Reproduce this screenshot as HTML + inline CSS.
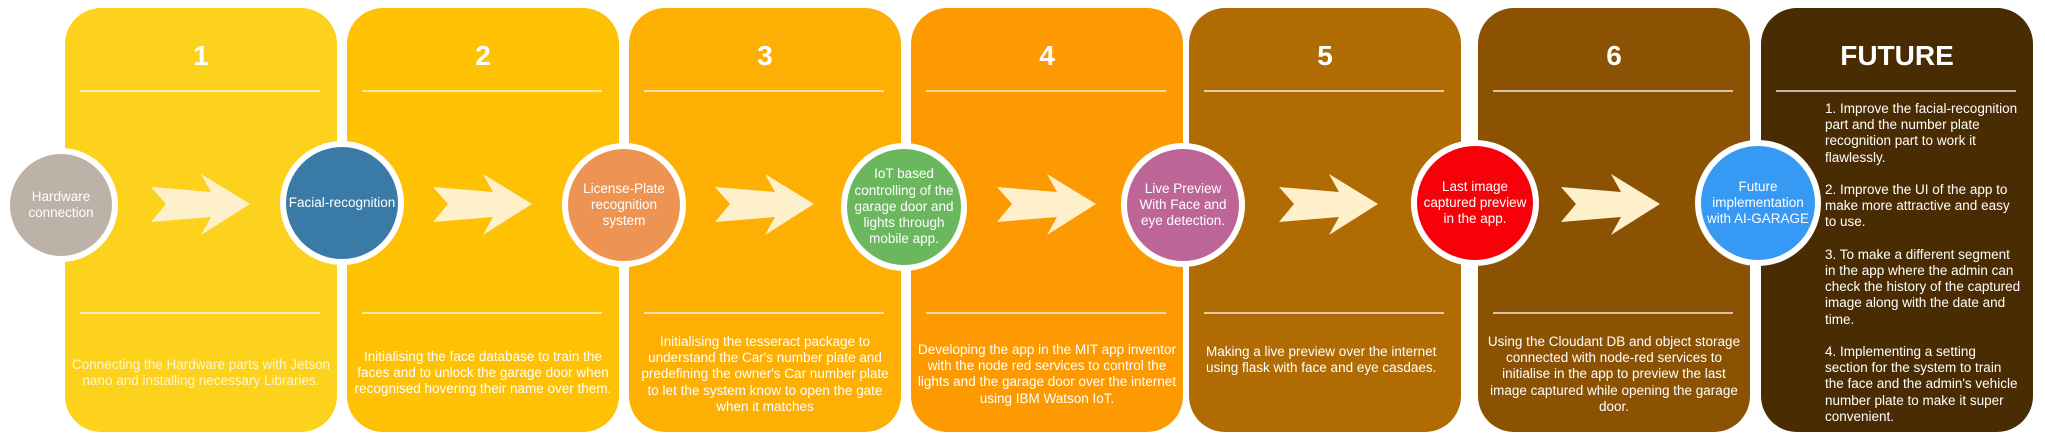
<!DOCTYPE html>
<html><head><meta charset="utf-8"><style>
body{margin:0;width:2045px;height:438px;background:#fff;position:relative;overflow:hidden;font-family:"Liberation Sans",Arial,sans-serif;}
.p{position:absolute;top:8px;height:424px;width:272px;border-radius:36px;}
.num{position:absolute;top:32px;left:0;width:100%;text-align:center;color:#fff;font-weight:bold;font-size:28px;}
.ln{position:absolute;left:15px;width:240px;height:2px;background:rgba(255,255,255,0.65);}
.t{position:absolute;left:0;width:100%;color:#fff;font-size:13.5px;line-height:16.2px;text-align:center;white-space:nowrap;}
.c{position:absolute;border-radius:50%;border:6px solid #fff;display:flex;align-items:center;justify-content:center;text-align:center;color:#fff;font-size:13.5px;line-height:16.2px;box-sizing:border-box;white-space:nowrap;}
svg.a{position:absolute;top:0;left:0;}
</style></head><body>

<div class="p" style="left:65px;background:#FDD21C"><div class="num">1</div><div class="ln" style="top:82px"></div><div class="ln" style="top:304px"></div>
<div class="t" style="top:349px;color:#fff6d0">Connecting the Hardware parts with Jetson<br>nano and installing necessary Libraries.</div></div>

<div class="p" style="left:347px;background:#FEC103"><div class="num">2</div><div class="ln" style="top:82px"></div><div class="ln" style="top:304px"></div>
<div class="t" style="top:341px">Initialising the face database to train the<br>faces and to unlock the garage door when<br>recognised hovering their name over them.</div></div>

<div class="p" style="left:629px;background:#FEAF03"><div class="num">3</div><div class="ln" style="top:82px"></div><div class="ln" style="top:304px"></div>
<div class="t" style="top:326px">Initialising the tesseract package to<br>understand the Car's number plate and<br>predefining the owner's Car number plate<br>to let the system know to open the gate<br>when it matches</div></div>

<div class="p" style="left:911px;background:#FD9A02"><div class="num">4</div><div class="ln" style="top:82px"></div><div class="ln" style="top:304px"></div>
<div class="t" style="top:334px">Developing the app in the MIT app inventor<br>with the node red services to control the<br>lights and the garage door over the internet<br>using IBM Watson IoT.</div></div>

<div class="p" style="left:1189px;background:#B06B03"><div class="num">5</div><div class="ln" style="top:82px"></div><div class="ln" style="top:304px"></div>
<div class="t" style="top:336px;left:17px;text-align:left">Making a live preview over the internet<br>using flask with face and eye casdaes.</div></div>

<div class="p" style="left:1478px;background:#8A5202"><div class="num">6</div><div class="ln" style="top:82px"></div><div class="ln" style="top:304px"></div>
<div class="t" style="top:326px">Using the Cloudant DB and object storage<br>connected with node-red services to<br>initialise in the app to preview the last<br>image captured while opening the garage<br>door.</div></div>

<div class="p" style="left:1761px;background:#4A2C02"><div class="num">FUTURE</div><div class="ln" style="top:82px"></div>
<div class="t" style="top:93px;left:64px;text-align:left">1. Improve the facial-recognition<br>part and the number plate<br>recognition part to work it<br>flawlessly.<br><br>2. Improve the UI of the app to<br>make more attractive and easy<br>to use.<br><br>3. To make a different segment<br>in the app where the admin can<br>check the history of the captured<br>image along with the date and<br>time.<br><br>4. Implementing a setting<br>section for the system to train<br>the face and the admin's vehicle<br>number plate to make it super<br>convenient.</div></div>

<svg class="a" width="2045" height="438">
<defs><polygon id="ar" points="151,187 166,204 151,222 211,217 201,235 250,204 201,174 211,192" fill="#FFF0CC"/></defs>
<use href="#ar" x="0"/><use href="#ar" x="282"/><use href="#ar" x="564"/><use href="#ar" x="846"/><use href="#ar" x="1128"/><use href="#ar" x="1410"/>
</svg>

<div class="c" style="left:4px;top:148px;width:114px;height:114px;background:#BDB2A7">Hardware<br>connection</div>
<div class="c" style="left:280px;top:141px;width:124px;height:124px;background:#3A7AA7">Facial-recognition</div>
<div class="c" style="left:562px;top:143px;width:124px;height:124px;background:#EE9452">License-Plate<br>recognition<br>system</div>
<div class="c" style="left:841px;top:143px;width:126px;height:128px;background:#6AB75E">IoT based<br>controlling of the<br>garage door and<br>lights through<br>mobile app.</div>
<div class="c" style="left:1121px;top:143px;width:124px;height:124px;background:#BE6598">Live Preview<br>With Face and<br>eye detection.</div>
<div class="c" style="left:1411px;top:140px;width:128px;height:126px;background:#F8000A">Last image<br>captured preview<br>in the app.</div>
<div class="c" style="left:1695px;top:140px;width:126px;height:126px;background:#3699F4">Future<br>implementation<br>with AI-GARAGE</div>
</body></html>
